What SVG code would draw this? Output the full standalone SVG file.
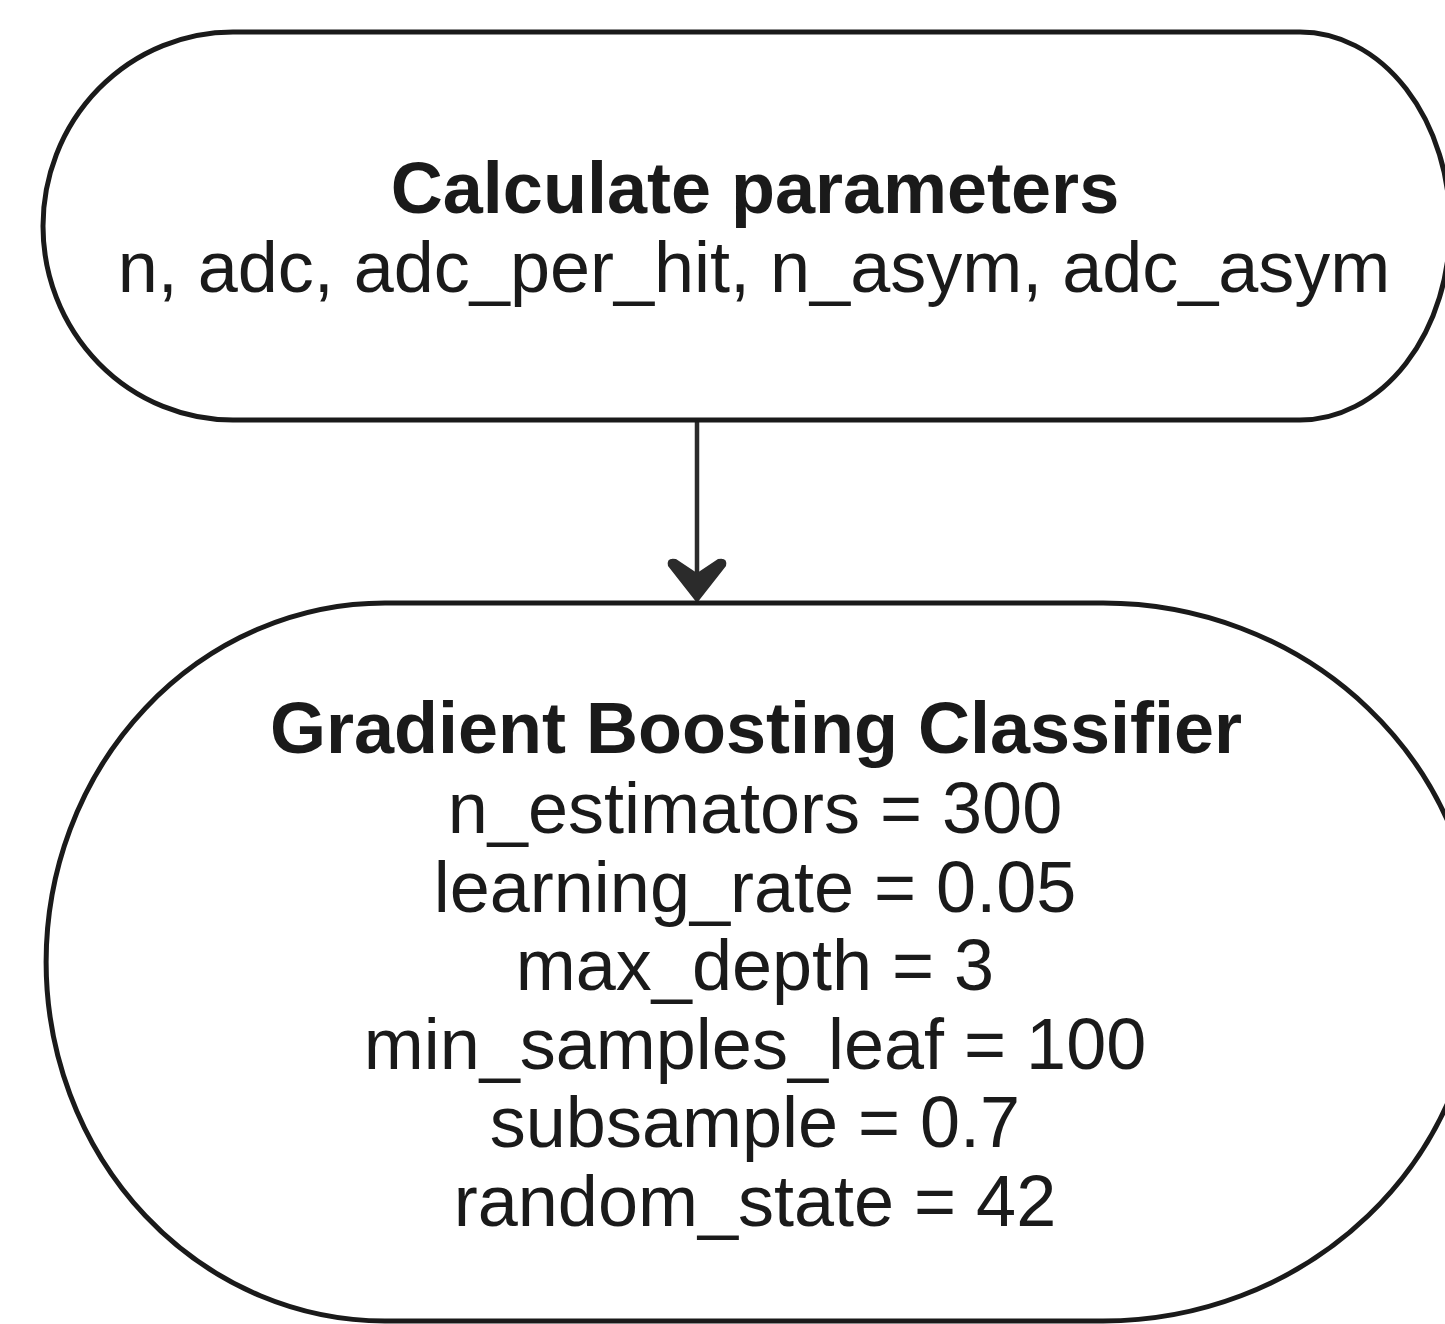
<svg xmlns="http://www.w3.org/2000/svg" width="1445" height="1324" viewBox="0 0 1445 1324">
  <style>
    .shape { fill: #ffffff; stroke: #1a1a1a; stroke-width: 5; }
    .title { font-family: "Liberation Sans", Arial, sans-serif; font-size: 72px; font-weight: bold; fill: #1a1a1a; text-anchor: middle; }
    .body { font-family: "Liberation Sans", Arial, sans-serif; font-size: 72px; fill: #1a1a1a; text-anchor: middle; }
    .edge { stroke: #2b2b2b; stroke-width: 4.5; fill: none; }
    .head { fill: #2b2b2b; stroke: none; }
  </style>
  <rect width="1445" height="1324" fill="#ffffff"/>
  <g id="connectors">
    <line class="edge" x1="697" y1="421" x2="697" y2="580"/>
    <path class="head" d="M697,603 L668,566 Q666,557 676,559 L697,573 L718,559 Q728,557 726,566 Z"/>
  </g>
  <g id="node-calculate">
    <path class="shape" d="M233,32 H1300 A150,194 0 0 1 1300,420 H233 A190,194 0 0 1 233,32 Z"/>
    <text class="title" x="755" y="213">Calculate parameters</text>
    <text class="body" x="754" y="292">n, adc, adc_per_hit, n_asym, adc_asym</text>
  </g>
  <g id="node-gbc">
    <path class="shape" d="M385,603 H1103 A375,359 0 0 1 1103,1321 H385 A339,359 0 0 1 385,603 Z"/>
    <text class="title" x="756" y="753">Gradient Boosting Classifier</text>
    <text class="body" x="755" y="833">n_estimators = 300</text>
    <text class="body" x="755" y="912">learning_rate = 0.05</text>
    <text class="body" x="755" y="990">max_depth = 3</text>
    <text class="body" x="755" y="1069">min_samples_leaf = 100</text>
    <text class="body" x="755" y="1147">subsample = 0.7</text>
    <text class="body" x="755" y="1226">random_state = 42</text>
  </g>
</svg>
